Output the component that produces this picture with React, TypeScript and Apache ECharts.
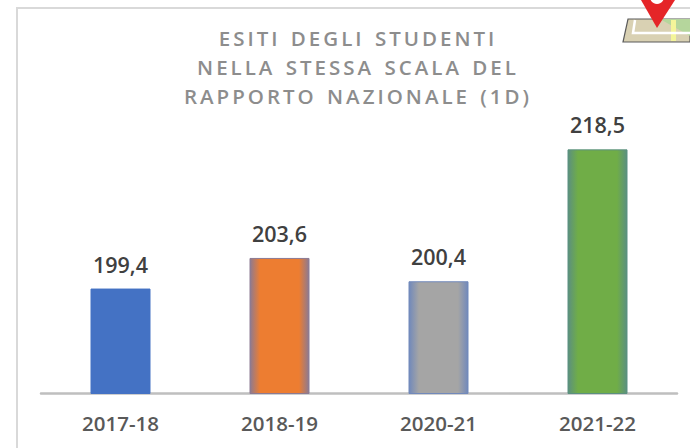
import React, { useEffect, useRef } from "react";
import * as echarts from "echarts";

const categories = ["2017-18", "2018-19", "2020-21", "2021-22"];
const values = [199.4, 203.6, 200.4, 218.5];
const centerColors = ["#4472c4", "#ed7d31", "#a5a5a5", "#70ad47"];
const edgeColors = ["#4472c4", "#8c7a92", "#7189bb", "#5b9080"];
const titleLines = ["ESITI DEGLI STUDENTI", "NELLA STESSA SCALA DEL", "RAPPORTO NAZIONALE (1D)"];
const FONT = "'Open Sans', 'Noto Sans', sans-serif";

function barFill(center: string, edge: string) {
  return {
    type: "linear", x: 0, y: 0, x2: 1, y2: 0,
    colorStops: [
      { offset: 0, color: edge },
      { offset: 0.17, color: center },
      { offset: 0.83, color: center },
      { offset: 1, color: edge },
    ],
  };
}

export default function App() {
  const ref = useRef<HTMLDivElement>(null);
  useEffect(() => {
    document.body.style.margin = "0";
    const styleEl = document.createElement("style");
    styleEl.textContent = 'text[fill="#8d8d8d"]{letter-spacing:3px;word-spacing:2px}';
    document.head.appendChild(styleEl);
    const chart = echarts.init(ref.current!, undefined, { renderer: "svg" });
    chart.setOption({
      animation: false,
      backgroundColor: "#ffffff",
      grid: { left: 41, width: 636, top: 102, height: 291.5 },
      xAxis: {
        type: "category",
        data: categories,
        axisTick: { show: false },
        axisLine: { show: true, lineStyle: { color: "#bfbfbf", width: 2.5 } },
        axisLabel: { color: "#595959", fontSize: 20.5, fontWeight: 600, fontFamily: FONT, margin: 19 },
      },
      yAxis: { type: "value", min: 185, max: 225, show: false, splitLine: { show: false } },
      series: [
        {
          type: "bar",
          barWidth: 60,
          data: values.map((v, i) => ({
            value: v,
            itemStyle: {
              color: barFill(centerColors[i], edgeColors[i]),
              borderColor: edgeColors[i],
              borderWidth: 1,
            },
          })),
          label: {
            show: true,
            position: "top",
            distance: 13.5,
            color: "#404040",
            fontSize: 21.5,
            fontWeight: 600,
            fontFamily: FONT,
            formatter: (p: any) => String(p.value).replace(".", ","),
          },
        },
      ],
      graphic: [
        { type: "line", shape: { x1: 17, y1: 8, x2: 17, y2: 448 }, style: { stroke: "#d9d9d9", lineWidth: 2 } },
        { type: "line", shape: { x1: 16, y1: 8, x2: 690, y2: 8 }, style: { stroke: "#d9d9d9", lineWidth: 2 } },
        ...titleLines.map((t, i) => ({
          type: "text",
          x: 358,
          y: 38 + i * 29,
          style: {
            text: t, fill: "#8d8d8d", font: `600 20.5px ${FONT}`,
            align: "center", verticalAlign: "middle",
          },
        })),
        { type: "polygon", shape: { points: [[628, 19], [690, 19], [690, 42], [623, 42]] }, style: { fill: "#d9d1b3", stroke: "#5a5a5a", lineWidth: 1.2 } },
        { type: "polygon", shape: { points: [[660, 19], [690, 19], [690, 36]] }, style: { fill: "#b5d69c" } },
        { type: "polygon", shape: { points: [[671, 20], [676, 20], [676, 41], [671, 41]] }, style: { fill: "#f4f59a" } },
        { type: "polyline", shape: { points: [[635, 20], [633, 33], [672, 33], [690, 33]] }, style: { stroke: "#ffffff", lineWidth: 2.5, fill: "none" } },
        { type: "polygon", shape: { points: [[641, 0], [675, 0], [657, 28]] }, style: { fill: "#e52528" } },
        { type: "circle", shape: { cx: 657, cy: -3, r: 7 }, style: { fill: "#ffffff" } },
      ],
    });
    return () => {
      chart.dispose();
      styleEl.remove();
    };
  }, []);
  return <div ref={ref} style={{ width: 690, height: 448 }} />;
}
